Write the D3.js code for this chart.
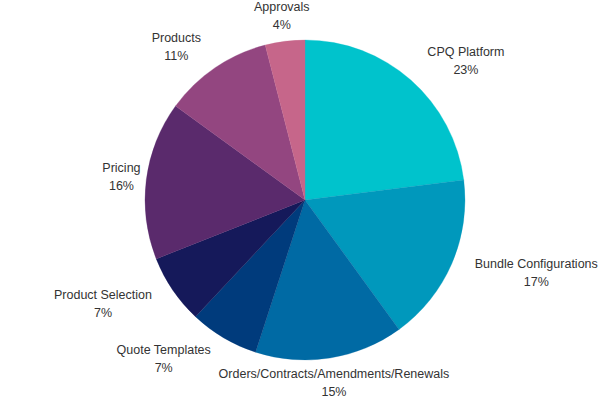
<!DOCTYPE html>
<html>
<head>
<meta charset="utf-8">
<script src="https://cdn.jsdelivr.net/npm/d3@7/dist/d3.min.js"></script>
<style>
  html, body { margin: 0; padding: 0; background: #fff; }
  svg { display: block; }
  text { font-family: "Liberation Sans", Arial, sans-serif; font-size: 12.5px; fill: #333; }
</style>
</head>
<body>
<svg id="chart" width="600" height="400"></svg>
<script>
const categories = ["CPQ Platform", "Bundle Configurations", "Orders/Contracts/Amendments/Renewals",
  "Quote Templates", "Product Selection", "Pricing", "Products", "Approvals"];
const values = [23, 17, 15, 7, 7, 16, 11, 4];
const colors = ["#00C3CC", "#0098BC", "#006AA4", "#003B7C", "#15195A", "#5A2A6C", "#934680", "#C6668A"];

const W = 600, H = 400, cx = 305, cy = 200, R = 160, labelR = 185, lineH = 18;
const svg = d3.select("#chart");
const g = svg.append("g").attr("transform", `translate(${cx},${cy})`);

const data = categories.map((c, i) => ({ name: c, value: values[i], color: colors[i] }));
const pie = d3.pie().value(d => d.value).sort(null);
const arcs = pie(data);
const arc = d3.arc().innerRadius(0).outerRadius(R);

g.selectAll("path.slice").data(arcs).join("path")
  .attr("class", "slice")
  .attr("d", arc)
  .attr("fill", d => d.data.color)
  .attr("stroke", d => d.data.color)
  .attr("stroke-width", 0.3);

const total = d3.sum(values);
const fmt = v => Math.round(v / total * 100) + "%";

arcs.forEach(d => {
  const a = (d.startAngle + d.endAngle) / 2;
  const px = labelR * Math.sin(a), py = -labelR * Math.cos(a);
  const t = g.append("text").attr("text-anchor", "middle");
  t.append("tspan").attr("x", 0).attr("dy", 0).text(d.data.name);
  t.append("tspan").attr("x", 0).attr("dy", lineH).text(fmt(d.data.value));
  const bb = t.node().getBBox();
  const w = bb.width, h = bb.height;
  let left = px - w / 2, top = py - h / 2;
  const nx = Math.max(left, Math.min(0, left + w));
  const ny = Math.max(top, Math.min(0, top + h));
  if (Math.hypot(nx, ny) < R) {
    left = Math.sin(a) >= 0 ? px : px - w;
  }
  const dx = left - bb.x, dy = top - bb.y;
  t.attr("transform", `translate(${dx},${dy})`);
});
</script>
</body>
</html>
